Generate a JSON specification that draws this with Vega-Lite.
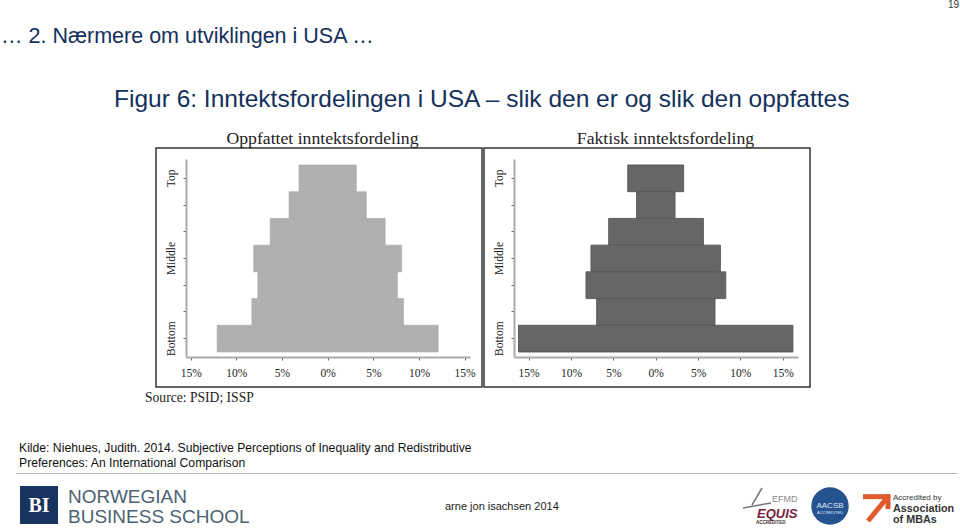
{"$schema":"https://vega.github.io/schema/vega-lite/v6.json","padding":0,"spacing":1,"background":"white","config":{"view":{"stroke":null},"text":{"font":"Liberation Sans"}},
"vconcat":[
{"width":960,"height":128,"layer":[
{"data":{"values":[{"label":"19"}]},"mark":{"type":"text","align":"right","baseline":"alphabetic","font":"Liberation Sans","fontSize":10,"fill":"#333333"},"encoding":{"text":{"field":"label"},"x":{"value":959},"y":{"value":8}}},
{"data":{"values":[{"label":"… 2. Nærmere om utviklingen i USA …"}]},"mark":{"type":"text","align":"left","baseline":"alphabetic","font":"Liberation Sans","fontSize":21.5,"fill":"#14305c"},"encoding":{"text":{"field":"label"},"x":{"value":1},"y":{"value":43}}},
{"data":{"values":[{"label":"Figur 6: Inntektsfordelingen i USA – slik den er og slik den oppfattes"}]},"mark":{"type":"text","align":"left","baseline":"alphabetic","font":"Liberation Sans","fontSize":24.5,"fill":"#14305c"},"encoding":{"text":{"field":"label"},"x":{"value":114},"y":{"value":107}}}
]},
{"hconcat":[
{"width":155,"height":239,"data":{"values":[{"label":""}]},"mark":{"type":"text"},"encoding":{"text":{"field":"label"}}},
{"width":326,"height":239,"view":{"stroke":"#333333","strokeWidth":1.5},
"title":{"text":"Oppfattet inntektsfordeling","font":"Liberation Serif","fontSize":17.7,"fontWeight":"normal","color":"#222222","anchor":"middle","dx":3.5,"offset":0},
"data":{"values":[{"level":7,"low":-3.14,"high":3.14},{"level":6,"low":-4.23,"high":4.23},{"level":5,"low":-6.3,"high":6.3},{"level":4,"low":-8.1,"high":8.1},{"level":3,"low":-7.65,"high":7.63},{"level":2,"low":-8.3,"high":8.3},{"level":1,"low":-12.1,"high":12.1}]},
"mark":{"type":"bar","fill":"#b0b0b0","stroke":"#a6a6a6","strokeWidth":0.6},
"encoding":{
"x":{"field":"low","type":"quantitative","scale":{"domain":[-15.55,15.59],"range":[29.7,314],"nice":false,"zero":false},"axis":{"values":[-15,-10,-5,0,5,10,15],"labelExpr":"abs(datum.value)+'%'","title":null,"grid":false,"offset":-30,"domainColor":"#aaaaaa","domainWidth":2,"tickColor":"#666666","tickSize":3,"labelFont":"Liberation Serif","labelFontSize":11.5,"labelColor":"#222222","labelPadding":7,"labelFlush":false}},
"x2":{"field":"high"},
"y":{"field":"level","type":"ordinal","scale":{"domain":[7,6,5,4,3,2,1],"range":[11,208.7],"paddingInner":0,"paddingOuter":0.2,"align":0.56},"axis":{"labelExpr":"datum.value==7?'Top':datum.value==4?'Middle':datum.value==1?'Bottom':''","title":null,"grid":false,"offset":-30,"domainColor":"#aaaaaa","domainWidth":2,"tickColor":"#666666","tickSize":3,"labelFont":"Liberation Serif","labelFontSize":11.5,"labelColor":"#222222","labelAngle":-90,"labelAlign":"center","labelBaseline":"bottom","labelPadding":7}}
}},
{"width":326,"height":239,"view":{"stroke":"#333333","strokeWidth":1.5},
"title":{"text":"Faktisk inntektsfordeling","font":"Liberation Serif","fontSize":17.7,"fontWeight":"normal","color":"#222222","anchor":"middle","dx":18.5,"offset":0},
"data":{"values":[{"level":7,"low":-3.3,"high":3.3},{"level":6,"low":-2.26,"high":2.28},{"level":5,"low":-5.55,"high":5.63},{"level":4,"low":-7.64,"high":7.64},{"level":3,"low":-8.23,"high":8.27},{"level":2,"low":-6.97,"high":7.0},{"level":1,"low":-16.2,"high":16.2}]},
"mark":{"type":"bar","fill":"#666666","stroke":"#565656","strokeWidth":0.9},
"encoding":{
"x":{"field":"low","type":"quantitative","scale":{"domain":[-16.73,16.8],"range":[30,314],"nice":false,"zero":false},"axis":{"values":[-15,-10,-5,0,5,10,15],"labelExpr":"abs(datum.value)+'%'","title":null,"grid":false,"offset":-30,"domainColor":"#aaaaaa","domainWidth":2,"tickColor":"#666666","tickSize":3,"labelFont":"Liberation Serif","labelFontSize":11.5,"labelColor":"#222222","labelPadding":7,"labelFlush":false}},
"x2":{"field":"high"},
"y":{"field":"level","type":"ordinal","scale":{"domain":[7,6,5,4,3,2,1],"range":[11,208.7],"paddingInner":0,"paddingOuter":0.2,"align":0.56},"axis":{"labelExpr":"datum.value==7?'Top':datum.value==4?'Middle':datum.value==1?'Bottom':''","title":null,"grid":false,"offset":-30,"domainColor":"#aaaaaa","domainWidth":2,"tickColor":"#666666","tickSize":3,"labelFont":"Liberation Serif","labelFontSize":11.5,"labelColor":"#222222","labelAngle":-90,"labelAlign":"center","labelBaseline":"bottom","labelPadding":7}}
}}
],"spacing":0},
{"width":960,"height":142,"layer":[
{"data":{"values":[{"label":"Source: PSID; ISSP"}]},"mark":{"type":"text","align":"left","baseline":"alphabetic","font":"Liberation Serif","fontSize":13.6,"fill":"#222222"},"encoding":{"text":{"field":"label"},"x":{"value":145},"y":{"value":13}}},
{"data":{"values":[{"label":"Kilde: Niehues, Judith. 2014. Subjective Perceptions of Inequality and Redistributive"}]},"mark":{"type":"text","align":"left","baseline":"alphabetic","font":"Liberation Sans","fontSize":12.2,"fill":"#111111"},"encoding":{"text":{"field":"label"},"x":{"value":19},"y":{"value":63}}},
{"data":{"values":[{"label":"Preferences: An International Comparison"}]},"mark":{"type":"text","align":"left","baseline":"alphabetic","font":"Liberation Sans","fontSize":12.2,"fill":"#111111"},"encoding":{"text":{"field":"label"},"x":{"value":19},"y":{"value":78}}},
{"data":{"values":[{"label":"rule"}]},"mark":{"type":"rule","stroke":"#b5b5b5","strokeWidth":1},"encoding":{"x":{"value":16},"x2":{"value":957},"y":{"value":84.5}}},
{"data":{"values":[{"label":"BI"}]},"mark":{"type":"rect","fill":"#17335f"},"encoding":{"x":{"value":20},"x2":{"value":58},"y":{"value":97},"y2":{"value":135}}},
{"data":{"values":[{"label":"BI"}]},"mark":{"type":"text","align":"center","baseline":"alphabetic","font":"Liberation Serif","fontWeight":"bold","fontSize":20,"fill":"white"},"encoding":{"text":{"field":"label"},"x":{"value":39},"y":{"value":123}}},
{"data":{"values":[{"label":"NORWEGIAN"}]},"mark":{"type":"text","align":"left","baseline":"alphabetic","font":"Liberation Sans","fontSize":19,"fill":"#4d6272"},"encoding":{"text":{"field":"label"},"x":{"value":68},"y":{"value":113.5}}},
{"data":{"values":[{"label":"BUSINESS SCHOOL"}]},"mark":{"type":"text","align":"left","baseline":"alphabetic","font":"Liberation Sans","fontSize":19,"fill":"#4d6272"},"encoding":{"text":{"field":"label"},"x":{"value":68},"y":{"value":133.5}}},
{"data":{"values":[{"label":"arne jon isachsen 2014"}]},"mark":{"type":"text","align":"left","baseline":"alphabetic","font":"Liberation Sans","fontSize":11,"fill":"#222222"},"encoding":{"text":{"field":"label"},"x":{"value":445},"y":{"value":121}}},
{"data":{"values":[{"label":"s1"}]},"mark":{"type":"rule","stroke":"#777777","strokeWidth":1.5},"encoding":{"x":{"value":762},"x2":{"value":752},"y":{"value":99},"y2":{"value":116}}},
{"data":{"values":[{"label":"s2"}]},"mark":{"type":"rule","stroke":"#777777","strokeWidth":1.5},"encoding":{"x":{"value":743},"x2":{"value":771},"y":{"value":119},"y2":{"value":114}}},
{"data":{"values":[{"label":"EFMD"}]},"mark":{"type":"text","align":"left","baseline":"alphabetic","font":"Liberation Sans","fontSize":9,"fill":"#888888"},"encoding":{"text":{"field":"label"},"x":{"value":772},"y":{"value":113}}},
{"data":{"values":[{"label":"EQUIS"}]},"mark":{"type":"text","align":"left","baseline":"alphabetic","font":"Liberation Sans","fontStyle":"italic","fontWeight":"bold","fontSize":13,"fill":"#7a1f3f"},"encoding":{"text":{"field":"label"},"x":{"value":757},"y":{"value":128.5}}},
{"data":{"values":[{"label":"ACCREDITED"}]},"mark":{"type":"text","align":"left","baseline":"alphabetic","font":"Liberation Sans","fontWeight":"bold","fontSize":4.5,"letterSpacing":1.8,"fill":"#333333"},"encoding":{"text":{"field":"label"},"x":{"value":756},"y":{"value":135}}},
{"data":{"values":[{"label":"AACSB"}]},"mark":{"type":"point","filled":true,"shape":"circle","size":1400,"opacity":1,"fill":"#25538f"},"encoding":{"x":{"value":830},"y":{"value":117}}},
{"data":{"values":[{"label":"AACSB"}]},"mark":{"type":"text","align":"center","baseline":"alphabetic","font":"Liberation Sans","fontSize":8,"fill":"#dfe8f4"},"encoding":{"text":{"field":"label"},"x":{"value":830},"y":{"value":119}}},
{"data":{"values":[{"label":"ACCREDITED"}]},"mark":{"type":"text","align":"center","baseline":"alphabetic","font":"Liberation Sans","fontSize":4,"fill":"#dfe8f4"},"encoding":{"text":{"field":"label"},"x":{"value":830},"y":{"value":125}}},
{"data":{"values":[{"label":"a1"}]},"mark":{"type":"rule","stroke":"#e05a2b","strokeWidth":5},"encoding":{"x":{"value":863},"x2":{"value":890},"y":{"value":107.7},"y2":{"value":107.7}}},
{"data":{"values":[{"label":"a2"}]},"mark":{"type":"rule","stroke":"#e05a2b","strokeWidth":5},"encoding":{"x":{"value":889},"x2":{"value":868},"y":{"value":106.5},"y2":{"value":132}}},
{"data":{"values":[{"label":"a3"}]},"mark":{"type":"rule","stroke":"#e05a2b","strokeWidth":5},"encoding":{"x":{"value":888},"x2":{"value":888},"y":{"value":105},"y2":{"value":120}}},
{"data":{"values":[{"label":"Accredited by"}]},"mark":{"type":"text","align":"left","baseline":"alphabetic","font":"Liberation Sans","fontSize":8,"fill":"#333333"},"encoding":{"text":{"field":"label"},"x":{"value":893},"y":{"value":111}}},
{"data":{"values":[{"label":"Association"}]},"mark":{"type":"text","align":"left","baseline":"alphabetic","font":"Liberation Sans","fontWeight":"bold","fontSize":10.8,"fill":"#333333"},"encoding":{"text":{"field":"label"},"x":{"value":893},"y":{"value":122.5}}},
{"data":{"values":[{"label":"of MBAs"}]},"mark":{"type":"text","align":"left","baseline":"alphabetic","font":"Liberation Sans","fontWeight":"bold","fontSize":10.8,"fill":"#333333"},"encoding":{"text":{"field":"label"},"x":{"value":893},"y":{"value":133.5}}}
]}
]}
